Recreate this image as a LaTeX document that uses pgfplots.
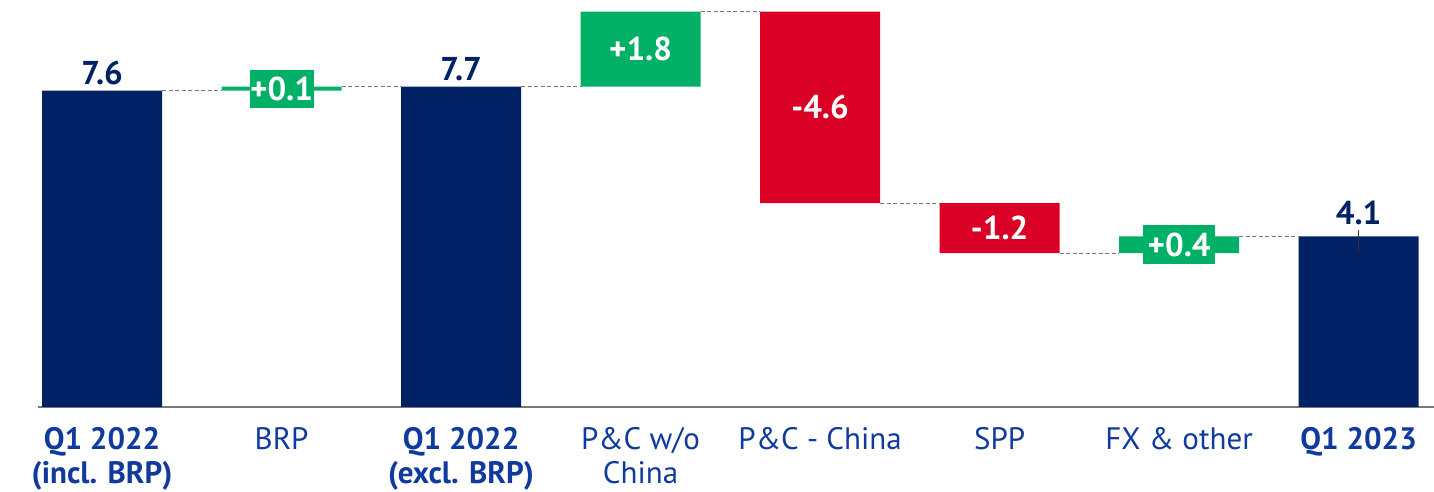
\documentclass[border=0pt]{standalone}
\usepackage{pgfplots}
\pgfplotsset{compat=1.18}
\usepackage{fontspec}
\setmainfont{PT Sans}
\definecolor{navy}{RGB}{0,33,100}
\definecolor{wgreen}{RGB}{0,176,103}
\definecolor{wred}{RGB}{218,0,37}
\definecolor{lblue}{RGB}{16,58,158}
\definecolor{conn}{RGB}{120,120,120}
\begin{document}
\begin{tikzpicture}[x=1pt,y=1pt]
\begin{axis}[
  at={(38pt,85pt)}, anchor=south west,
  scale only axis, width=1396pt, height=407pt,
  xmin=-0.357, xmax=7.42, ymin=0, ymax=9.78,
  ybar stacked, bar width=120pt,
  axis lines*=left,
  y axis line style={draw=none},
  x axis line style={draw=conn, line width=1.8pt},
  ytick=\empty,
  xtick={0,...,7},
  major tick length=0pt,
  xticklabels={{\textbf{Q1 2022}\\\textbf{(incl. BRP)}},BRP,{\textbf{Q1 2022}\\\textbf{(excl. BRP)}},{P\&C w/o\\China},P\&C - China,SPP,FX \& other,\textbf{Q1 2023}},
  xticklabel style={font=\fontsize{31}{33.5}\selectfont, text=lblue, align=center, anchor=north, yshift=-17pt},
  clip=false,
]
% invisible base
\addplot[draw=none, fill=none] coordinates {(0,0) (1,7.6) (2,0) (3,7.7) (4,4.9) (5,3.7) (6,3.7) (7,0)};
% totals
\addplot[draw=none, fill=navy] coordinates {(0,7.6) (1,0) (2,7.7) (3,0) (4,0) (5,0) (6,0) (7,4.1)};
% increases
\addplot[draw=none, fill=wgreen] coordinates {(0,0) (1,0.1) (2,0) (3,1.8) (4,0) (5,0) (6,0.4) (7,0)};
% decreases
\addplot[draw=none, fill=wred] coordinates {(0,0) (1,0) (2,0) (3,0) (4,4.6) (5,1.2) (6,0) (7,0)};

\coordinate (t0) at (axis cs:0,7.6);
\coordinate (t2) at (axis cs:2,7.7);
\coordinate (t7) at (axis cs:7,4.1);
\coordinate (d1) at (axis cs:1,7.65);
\coordinate (d3) at (axis cs:3,8.6);
\coordinate (d4) at (axis cs:4,7.2);
\coordinate (d5) at (axis cs:5,4.3);
\coordinate (d6) at (axis cs:6,3.9);
\coordinate (a0) at (axis cs:0,7.6); \coordinate (b0) at (axis cs:1,7.6);
\coordinate (a1) at (axis cs:1,7.7); \coordinate (b1) at (axis cs:2,7.7);
\coordinate (a2) at (axis cs:2,7.7); \coordinate (b2) at (axis cs:3,7.7);
\coordinate (a3) at (axis cs:3,9.5); \coordinate (b3) at (axis cs:4,9.5);
\coordinate (a4) at (axis cs:4,4.9); \coordinate (b4) at (axis cs:5,4.9);
\coordinate (a5) at (axis cs:5,3.7); \coordinate (b5) at (axis cs:6,3.7);
\coordinate (a6) at (axis cs:6,4.1); \coordinate (b6) at (axis cs:7,4.1);
\end{axis}

% connectors
\foreach \i in {0,...,6}{
  \draw[conn, dash pattern=on 4pt off 2.5pt, line width=0.9pt]
    ([xshift=60pt]a\i) -- ([xshift=-60pt]b\i);
}

% total labels
\tikzset{tot/.style={font=\bfseries\fontsize{33}{33}\selectfont, text=navy, anchor=base}}
\node[tot] at ([yshift=6pt]t0) {7.6};
\node[tot] at ([yshift=6pt]t2) {7.7};
\node[tot] at ([yshift=12pt]t7) {4.1};
\draw[black!80, line width=1pt] ([yshift=6pt]t7) -- ([yshift=-16pt]t7);

% delta labels
\tikzset{dl/.style={font=\bfseries\fontsize{33}{33}\selectfont, text=white, anchor=center}}
\node[dl] at (d3) {+1.8};
\node[dl] at (d4) {-4.6};
\node[dl] at (d5) {-1.2};
\node[dl, fill=wgreen, minimum width=64pt, minimum height=38pt, inner sep=0pt] at (d1) {+0.1};
\node[dl, fill=wgreen, minimum width=72pt, minimum height=39pt, inner sep=0pt] at (d6) {+0.4};

\pgfresetboundingbox
\path[use as bounding box] (0,0) rectangle (1434,492);
\end{tikzpicture}
\end{document}
